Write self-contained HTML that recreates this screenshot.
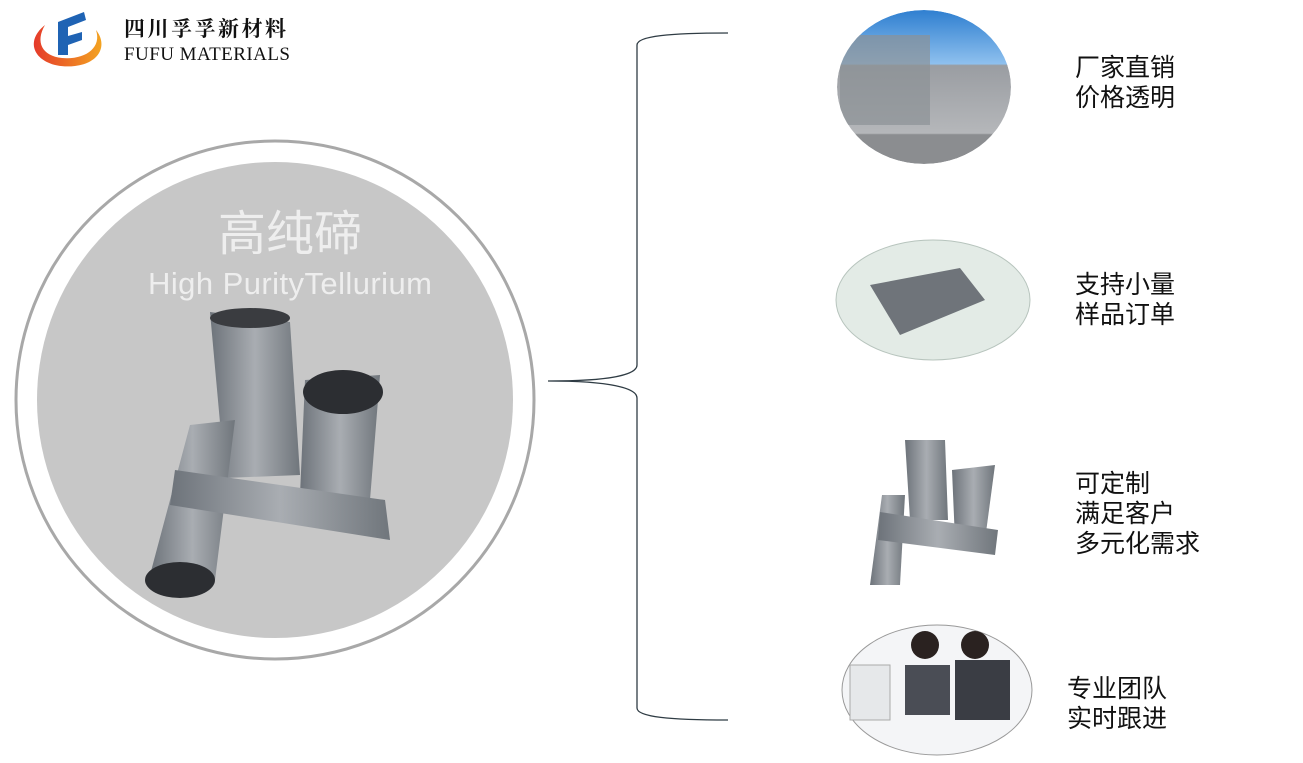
<!DOCTYPE html>
<html><head><meta charset="utf-8"><style>
body{margin:0;width:1303px;height:763px;background:#fff;position:relative;overflow:hidden;font-family:"Liberation Sans","Noto Sans CJK SC",sans-serif}
.t{position:absolute;font-size:25px;line-height:30px;color:#111;font-family:"Liberation Sans","Noto Sans CJK SC",sans-serif}
</style></head><body>
<svg width="1303" height="763" style="position:absolute;left:0;top:0">
<defs>
<linearGradient id="tube" x1="0" x2="1"><stop offset="0" stop-color="#6d737a"/><stop offset=".5" stop-color="#a9adb2"/><stop offset="1" stop-color="#70767c"/></linearGradient>
<linearGradient id="sky" x1="0" y1="0" x2="0" y2="1"><stop offset="0" stop-color="#2f7fd0"/><stop offset=".35" stop-color="#8ec0ee"/><stop offset=".36" stop-color="#9a9da2"/><stop offset=".8" stop-color="#b5b7ba"/><stop offset=".81" stop-color="#8b8d90"/></linearGradient>
<linearGradient id="arc" x1="0" x2="1"><stop offset="0" stop-color="#e53a2a"/><stop offset="1" stop-color="#f3a321"/></linearGradient>
<clipPath id="c1"><ellipse cx="924" cy="87" rx="87" ry="77"/></clipPath>
</defs>
<!-- logo -->
<path d="M45 25 C20 45 40 70 75 66 C100 63 108 45 96 30 C102 48 85 60 62 58 C42 56 35 42 45 25 Z" fill="url(#arc)"/>
<path d="M58 22 L84 12 L86 20 L68 27 L68 36 L82 32 L82 40 L68 45 L68 55 L58 55 Z" fill="#1f63b4"/>
<text x="124" y="36" font-size="21" font-weight="bold" font-family="Noto Serif CJK SC,serif" fill="#111" textLength="162">四川孚孚新材料</text>
<text x="124" y="60" font-size="19" font-family="Liberation Serif,serif" fill="#111" textLength="166">FUFU MATERIALS</text>
<!-- main circle -->
<circle cx="275" cy="400" r="259" fill="#fff" stroke="#a8a8a8" stroke-width="3"/>
<circle cx="275" cy="400" r="238" fill="#c7c7c7"/>
<text x="290" y="250" text-anchor="middle" font-size="48" fill="#eeeeee" font-family="Noto Sans CJK SC,sans-serif">高纯碲</text>
<text x="290" y="294" text-anchor="middle" font-size="31" fill="#eeeeee" font-family="Liberation Sans,sans-serif" textLength="284">High PurityTellurium</text>
<!-- tubes -->
<path d="M210 312 L290 322 L300 475 L225 478 Z" fill="url(#tube)"/>
<ellipse cx="250" cy="318" rx="40" ry="10" fill="#3a3c40"/>
<path d="M305 380 L380 375 L370 500 L300 495 Z" fill="url(#tube)"/>
<ellipse cx="343" cy="392" rx="40" ry="22" fill="#2c2e32"/>
<path d="M190 425 L235 420 L215 580 L150 575 Z" fill="url(#tube)"/>
<path d="M175 470 L385 500 L390 540 L170 505 Z" fill="url(#tube)"/>
<ellipse cx="180" cy="580" rx="35" ry="18" fill="#2c2e32"/>
<!-- brace -->
<path d="M548 381 C610 381 637 375 637 365 L637 45 C637 36 670 33 728 33 M548 381 C610 381 637 388 637 398 L637 708 C637 717 670 720 728 720" fill="none" stroke="#2f3c44" stroke-width="1.3"/>
<!-- right images -->
<g clip-path="url(#c1)">
<ellipse cx="924" cy="87" rx="87" ry="77" fill="url(#sky)"/>
<rect x="840" y="35" width="90" height="90" fill="#8c9196" opacity=".7"/>
</g>
<ellipse cx="933" cy="300" rx="97" ry="60" fill="#e3ebe6" stroke="#b7c4bd"/>
<path d="M870 285 L960 268 L985 300 L900 335 Z" fill="#6f747a"/>
<path d="M905 440 L945 440 L948 520 L910 520 Z" fill="url(#tube)"/>
<path d="M952 470 L995 465 L985 540 L955 540 Z" fill="url(#tube)"/>
<path d="M882 495 L905 495 L900 585 L870 585 Z" fill="url(#tube)"/>
<path d="M880 512 L998 530 L995 555 L878 540 Z" fill="url(#tube)"/>
<ellipse cx="937" cy="690" rx="95" ry="65" fill="#f4f5f7" stroke="#999"/>
<rect x="905" y="665" width="45" height="50" fill="#4a4d55"/>
<rect x="955" y="660" width="55" height="60" fill="#3a3d44"/>
<circle cx="925" cy="645" r="14" fill="#2a2220"/>
<circle cx="975" cy="645" r="14" fill="#2a2220"/>
<rect x="850" y="665" width="40" height="55" fill="#e6e8ea" stroke="#aaa"/>
</svg>
<div class="t" style="left:1075px;top:53px">厂家直销<br>价格透明</div>
<div class="t" style="left:1075px;top:270px">支持小量<br>样品订单</div>
<div class="t" style="left:1075px;top:469px">可定制<br>满足客户<br>多元化需求</div>
<div class="t" style="left:1067px;top:674px">专业团队<br>实时跟进</div>
</body></html>
